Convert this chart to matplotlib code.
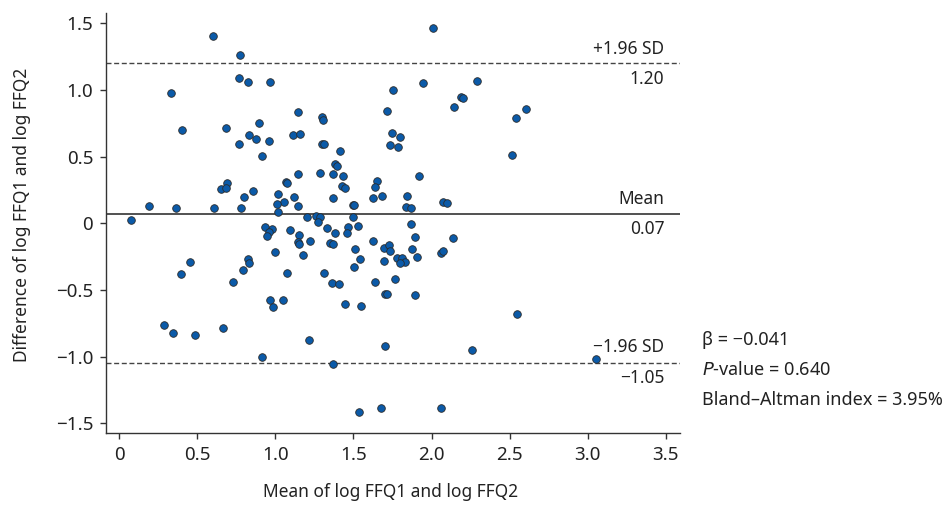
import matplotlib
matplotlib.use("Agg")
import matplotlib.pyplot as plt

plt.rcParams['font.family'] = ['Noto Sans', 'DejaVu Sans']

mean_vals = [0.603, 0.777, 0.770, 0.826, 0.967, 0.335, 1.146, 0.403, 0.687, 0.898, 0.834, 0.877,
             0.770, 0.958, 1.114, 1.159,
             2.012, 1.948, 1.752, 2.288, 2.190, 2.200, 2.147, 1.714, 1.298, 1.308, 1.746, 1.801,
             1.300, 1.312, 1.415, 1.733, 1.786,
             2.606, 2.540,
             0.916, 1.146, 1.069, 1.073, 0.691, 0.655, 0.685, 0.856, 0.800, 1.020, 1.118, 1.058,
             1.013, 1.144, 0.192, 0.363, 0.608, 0.781, 1.016, 0.077, 0.933, 0.980, 0.962, 0.945,
             1.095, 1.154, 1.146, 1.154, 0.997, 0.828, 0.834, 0.452, 0.794, 0.399, 1.073, 0.728,
             1.383, 1.397, 1.289, 1.372, 1.432, 1.921, 1.650, 1.639, 1.430, 1.445, 1.372, 1.626,
             1.686, 1.842, 1.497, 1.503, 1.835, 1.871, 2.076, 2.100, 1.206, 1.261, 1.287, 1.274,
             1.498, 1.332, 1.385, 1.464, 1.460, 1.532, 1.869, 1.223, 1.351, 1.372, 1.180, 1.513,
             1.624, 1.699, 1.727, 1.735, 1.895, 1.874, 2.140, 2.059, 2.074, 1.904, 1.543, 1.699,
             1.782, 1.812, 1.831, 1.799, 1.504, 1.310, 1.769, 1.361, 1.408, 1.637,
             2.518,
             0.969, 0.984, 1.048, 0.288, 0.344, 0.489, 0.664, 0.916,
             1.449, 1.549, 1.705, 1.712, 1.897, 1.218, 1.703, 2.258, 1.370, 1.534, 1.677, 2.061,
             2.550, 3.054]

diff_vals = [1.405, 1.260, 1.088, 1.058, 1.058, 0.980, 0.833, 0.702, 0.713, 0.752, 0.662, 0.632,
             0.595, 0.615, 0.665, 0.672,
             1.465, 1.050, 0.998, 1.070, 0.950, 0.940, 0.870, 0.840, 0.795, 0.775, 0.680, 0.645,
             0.595, 0.592, 0.542, 0.587, 0.570,
             0.855, 0.788,
             0.503, 0.368, 0.310, 0.305, 0.305, 0.255, 0.262, 0.245, 0.195, 0.217, 0.195, 0.160,
             0.147, 0.127, 0.130, 0.115, 0.115, 0.115, 0.082, 0.025, -0.030, -0.040, -0.063, -0.093,
             -0.050, -0.088, -0.140, -0.158, -0.218, -0.268, -0.298, -0.290, -0.350, -0.378, -0.370, -0.438,
             0.445, 0.432, 0.380, 0.368, 0.357, 0.355, 0.315, 0.275, 0.280, 0.265, 0.188, 0.192,
             0.207, 0.207, 0.140, 0.135, 0.125, 0.115, 0.157, 0.150, 0.047, 0.057, 0.045, 0.008,
             0.047, -0.038, -0.073, -0.030, -0.070, -0.023, -0.003, -0.130, -0.148, -0.158, -0.240, -0.190,
             -0.130, -0.183, -0.163, -0.210, -0.103, -0.190, -0.108, -0.223, -0.210, -0.250, -0.270, -0.280,
             -0.260, -0.260, -0.288, -0.300, -0.330, -0.370, -0.415, -0.445, -0.458, -0.438,
             0.512,
             -0.573, -0.625, -0.573, -0.763, -0.823, -0.835, -0.783, -1.003,
             -0.605, -0.618, -0.530, -0.528, -0.538, -0.873, -0.923, -0.950, -1.053, -1.418, -1.388, -1.388,
             -0.678, -1.020]

mean_diff = 0.07
upper_loa = 1.20
lower_loa = -1.05
x_ticks = [0, 0.5, 1.0, 1.5, 2.0, 2.5, 3.0, 3.5]
x_ticklabels = ['0', '0.5', '1.0', '1.5', '2.0', '2.5', '3.0', '3.5']
y_ticks = [1.5, 1.0, 0.5, 0, -0.5, -1.0, -1.5]
y_ticklabels = ['1.5', '1.0', '0.5', '0', '\u22120.5', '\u22121.0', '\u22121.5']
stats_lines = ['\u03b2 = \u22120.041', '$\\it{P}$-value = 0.640', 'Bland\u2013Altman index = 3.95%']

fig = plt.figure(figsize=(9.47, 5.05), dpi=100)
ax = fig.add_axes([0.1123, 0.142, 0.6057, 0.8317])

ax.scatter(mean_vals, diff_vals, s=30, c='#0b5aa8', edgecolors='#2b2b2b', linewidths=0.6, zorder=3)

ax.axhline(mean_diff, color='#333333', lw=1.2, zorder=2)
ax.axhline(upper_loa, color='#444444', lw=1.0, linestyle=(0, (3.6, 1.9)), zorder=2)
ax.axhline(lower_loa, color='#444444', lw=1.0, linestyle=(0, (3.6, 1.9)), zorder=2)

ax.set_xlim(-0.081, 3.59)
ax.set_ylim(-1.575, 1.575)
ax.set_xticks(x_ticks)
ax.set_xticklabels(x_ticklabels)
ax.set_yticks(y_ticks)
ax.set_yticklabels(y_ticklabels)

for s in ['top', 'right']:
    ax.spines[s].set_visible(False)
for s in ['left', 'bottom']:
    ax.spines[s].set_color('#333333')
    ax.spines[s].set_linewidth(1.0)
ax.tick_params(axis='both', direction='out', length=4.5, width=1.0, color='#333333',
               labelsize=13.5, labelcolor='#222222', pad=5)

txt_kw = dict(ha='right', fontsize=12.5, color='#222222')
tx = 3.49
ax.text(tx, upper_loa + 0.11, '+1.96 SD', va='center', **txt_kw)
ax.text(tx, upper_loa - 0.115, '1.20', va='center', **txt_kw)
ax.text(tx, mean_diff + 0.11, 'Mean', va='center', **txt_kw)
ax.text(tx, mean_diff - 0.115, '0.07', va='center', **txt_kw)
ax.text(tx, lower_loa + 0.12, '\u22121.96 SD', va='center', **txt_kw)
ax.text(tx, lower_loa - 0.11, '\u22121.05', va='center', **txt_kw)

ax.set_xlabel('Mean of log FFQ1 and log FFQ2', fontsize=12.5, color='#222222', va='center')
ax.set_ylabel('Difference of log FFQ1 and log FFQ2', fontsize=12.5, color='#222222',
              va='center', ha='center')
ax.xaxis.set_label_coords((391 - 106.3) / 574, (433.3 - 492) / 420)
ax.yaxis.set_label_coords((22 - 106.3) / 574, (433.3 - 215) / 420)

for i, line in enumerate(stats_lines):
    fig.text(701.7 / 947, 1 - (340 + 30 * i) / 505, line, ha='left', va='center',
             fontsize=13, color='#222222')

fig.savefig('out.png', dpi=100)
